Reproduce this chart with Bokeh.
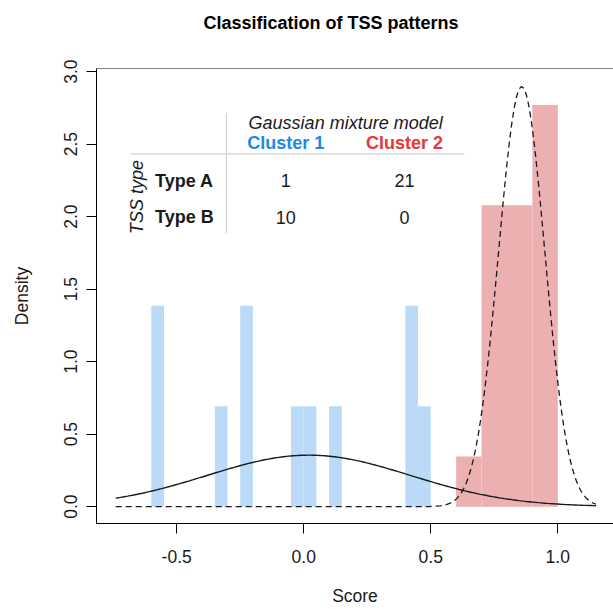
import numpy as np
from bokeh.plotting import figure
from bokeh.models import Span, NumeralTickFormatter, FixedTicker
from bokeh.core.properties import value
from bokeh.embed import file_html
from bokeh.resources import INLINE

# ---------------- data ----------------
# Cluster 1 histogram (density scale)
c1_left = [-0.60, -0.35, -0.25, -0.05, 0.00, 0.10, 0.40, 0.45]
c1_right = [-0.55, -0.30, -0.20, 0.00, 0.05, 0.15, 0.45, 0.50]
c1_density = [1.385, 0.693, 1.385, 0.693, 0.693, 0.693, 1.385, 0.693]

# Cluster 2 histogram (density scale)
c2_left = [0.6, 0.7, 0.8, 0.9]
c2_right = [0.7, 0.8, 0.9, 1.0]
c2_density = [0.346, 2.078, 2.078, 2.770]

# fitted Gaussian mixture components (mean, sd, weight) drawn as curves
comp_mean = [0.02, 0.858]
comp_sd = [0.40, 0.091]
comp_weight = [0.356, 0.661]
curve_from, curve_to = -0.74, 1.15

x_ticks = [-0.5, 0.0, 0.5, 1.0]
y_ticks = [0.0, 0.5, 1.0, 1.5, 2.0, 2.5, 3.0]

# contingency table
table_title = "Gaussian mixture model"
cluster_names = ["Cluster 1", "Cluster 2"]
cluster_colors = ["#1E88E5", "#E53935"]
tss_types = ["Type A", "Type B"]
counts = [[1, 21], [10, 0]]

FONT = "Liberation Sans"
Y0, Y1 = -0.1162, 3.0212

p = figure(width=613, height=609,
           x_range=(-0.8156, 1.2193), y_range=(Y0, Y1),
           output_backend="svg", toolbar_location=None,
           min_border_left=96, min_border_right=0,
           min_border_top=68, min_border_bottom=86,
           title="Classification of TSS patterns\n\n")
p.outline_line_color = None
p.grid.visible = False

p.title.text_font = FONT
p.title.text_font_size = "18px"
p.title.text_font_style = "bold"
p.title.text_color = "black"
p.title.align = "left"
p.title.offset = 107
p.title.vertical_align = "top"
p.title.standoff = -13

for ax in (p.xaxis[0], p.yaxis[0]):
    ax.major_tick_out = 10
    ax.major_tick_in = 0
    ax.minor_tick_out = 0
    ax.minor_tick_in = 0
    ax.axis_line_color = "black"
    ax.major_tick_line_color = "black"
    ax.major_label_text_font = FONT
    ax.major_label_text_font_size = "17.5px"
    ax.major_label_text_color = "#1a1a1a"
    ax.axis_label_text_font = FONT
    ax.axis_label_text_font_size = "17.5px"
    ax.axis_label_text_font_style = "normal"
    ax.axis_label_text_color = "#1a1a1a"
    ax.formatter = NumeralTickFormatter(format="0.0")

p.xaxis.ticker = FixedTicker(ticks=x_ticks)
p.yaxis.ticker = FixedTicker(ticks=y_ticks)
p.xaxis.axis_label = "Score"
p.yaxis.axis_label = "Density"
p.xaxis.major_label_standoff = 16
p.xaxis.axis_label_standoff = 20
p.yaxis.major_label_orientation = "vertical"
p.yaxis.major_label_standoff = 9
p.yaxis.axis_label_standoff = 30

p.add_layout(Span(location=Y1, dimension="width", line_color="black", line_width=1))

# histograms
p.quad(left=c1_left, right=c1_right, bottom=0, top=c1_density,
       fill_color="#BBDAF8", line_color=None)
p.quad(left=c2_left, right=c2_right, bottom=0, top=c2_density,
       fill_color="#EDB0B1", line_color=None)

# fitted component densities
xs = np.linspace(curve_from, curve_to, 201)
def comp(i):
    m, s, w = comp_mean[i], comp_sd[i], comp_weight[i]
    return w / (s * np.sqrt(2 * np.pi)) * np.exp(-(xs - m) ** 2 / (2 * s ** 2))

p.line(xs, comp(0), line_color="#1a1a1a", line_width=1.4)
p.line(xs, comp(1), line_color="#1a1a1a", line_width=1.3, line_dash="6 4")

# ---------------- table inset ----------------
col_x = [-0.071, 0.397]
row_y = [2.246, 1.996]
hdr_y = 2.508
ttl_x, ttl_y = 0.165, 2.642
rowlab_x = -0.585

p.segment(x0=[-0.681], y0=[2.433], x1=[0.633], y1=[2.433], line_color="#d4d4d4", line_width=1.2)
p.segment(x0=[-0.3045], y0=[1.886], x1=[-0.3045], y1=[2.711], line_color="#d4d4d4", line_width=1.2)

common = dict(text_font=value(FONT), text_font_size=value("18px"), text_baseline="middle")
p.text(x=[ttl_x], y=[ttl_y], text=[table_title], text_align="center",
       text_font_style="italic", text_color="#1a1a1a", **common)
p.text(x=col_x, y=[hdr_y] * 2, text=cluster_names, text_align="center",
       text_font_style="bold", text_color=cluster_colors, **common)
p.text(x=[rowlab_x] * 2, y=row_y, text=tss_types, text_align="left",
       text_font_style="bold", text_color="#1a1a1a", **common)
cx, cy, ct = [], [], []
for r in range(2):
    for c in range(2):
        cx.append(col_x[c]); cy.append(row_y[r]); ct.append(str(counts[r][c]))
p.text(x=cx, y=cy, text=ct, text_align="center", text_color="#1a1a1a", **common)
p.text(x=[-0.655], y=[2.135], text=["TSS type"], angle=np.pi / 2, text_align="center",
       text_font_style="italic", text_color="#1a1a1a", **common)

open("out.html", "w").write(file_html(p, INLINE))
